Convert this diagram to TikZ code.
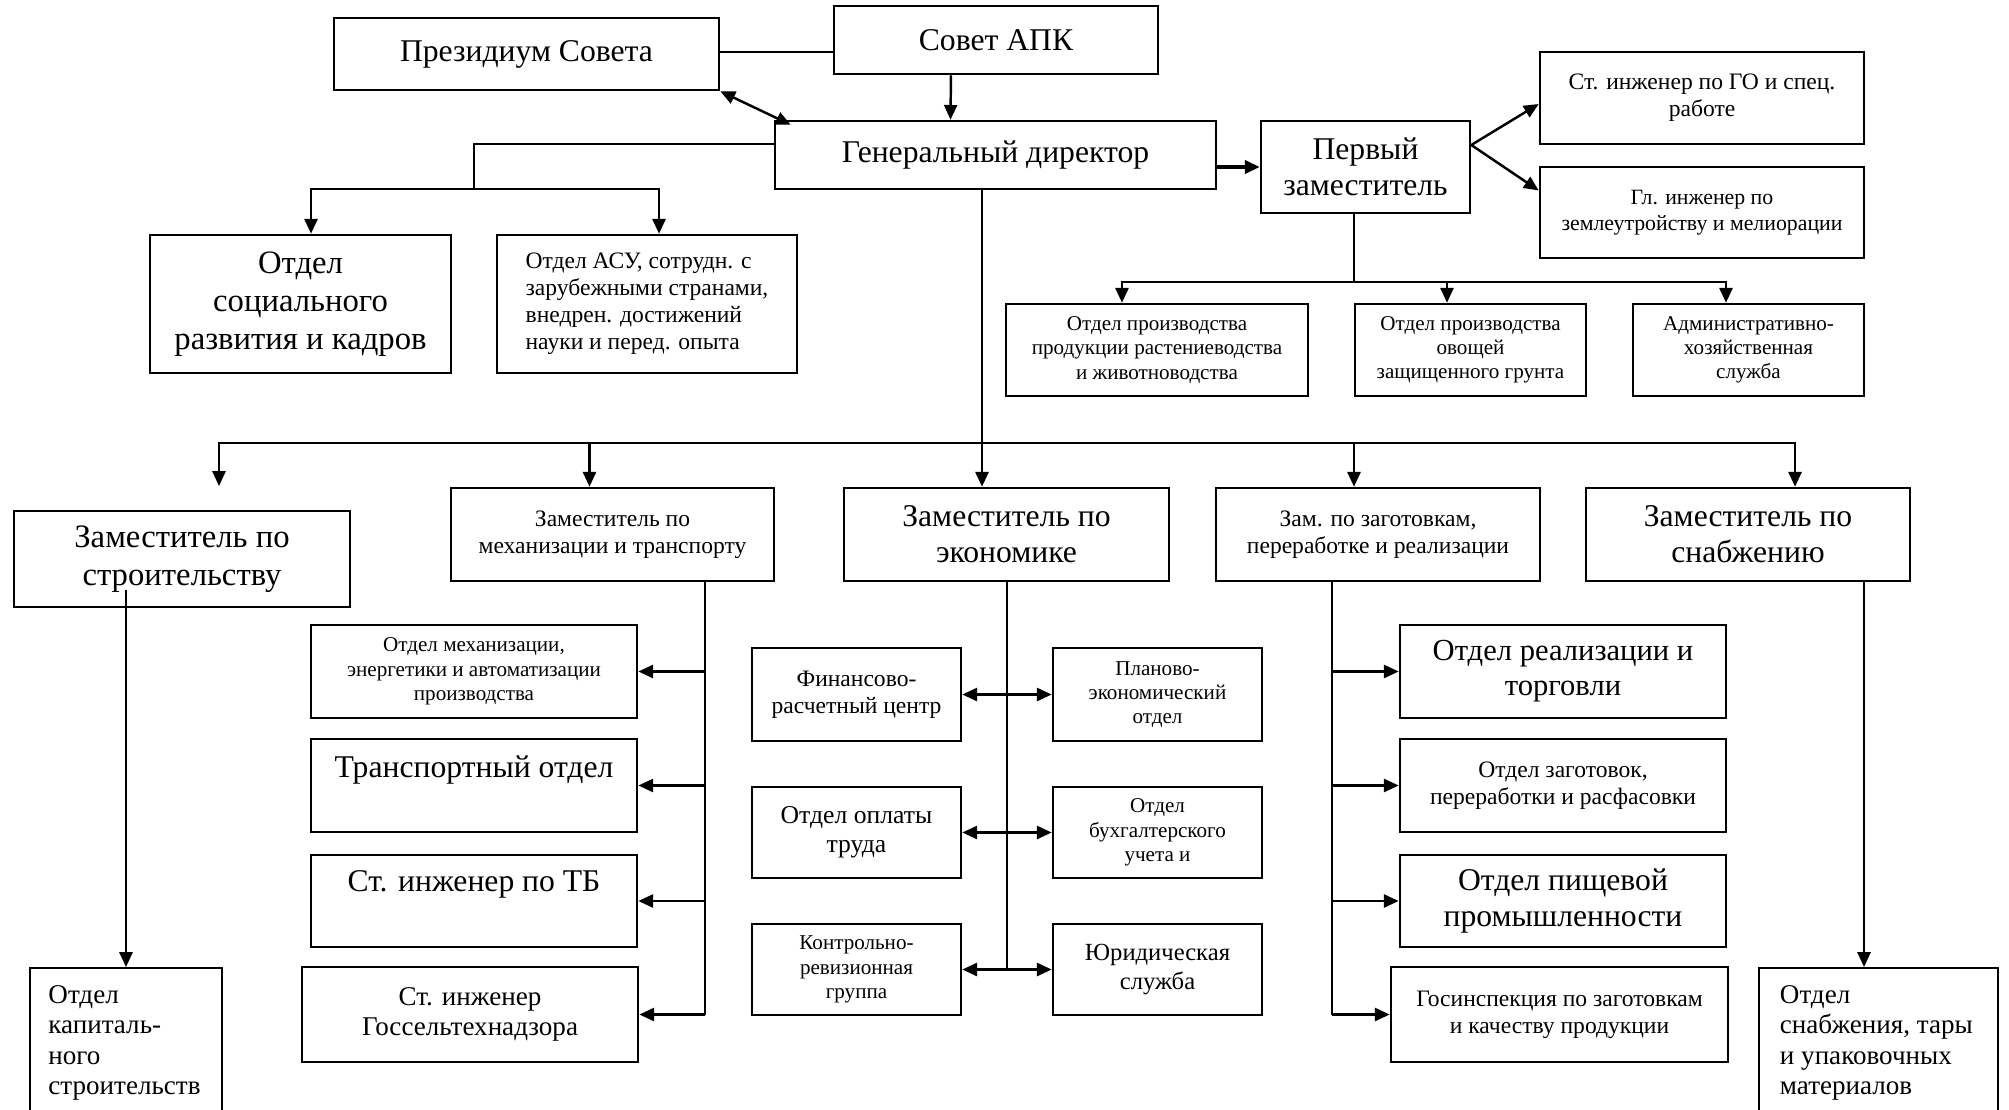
\documentclass[tikz,border=0pt]{standalone}
\usepackage{fontspec}
\setmainfont{Liberation Serif}
\usetikzlibrary{arrows.meta, positioning, calc}

\begin{document}
\begin{tikzpicture}[
    x=0.01cm, y=-0.01cm,
    box/.style={
        rectangle,
        draw=black,
        line width=0.7pt,
        fill=white,
        align=center,
        inner sep=2pt
    },
    sz/.style 2 args={minimum width=#1cm, minimum height=#2cm},
    fbigger/.style={font=\fontsize{9.3}{10.9}\selectfont},
    fbig/.style={font=\fontsize{9}{10.3}\selectfont},
    fmed/.style={font=\fontsize{7.7}{8.7}\selectfont},
    fmid/.style={font=\fontsize{6.7}{7.7}\selectfont},
    fsmall/.style={font=\fontsize{6}{6.9}\selectfont},
    arrow/.style={-{Triangle[length=4.2pt, width=3.7pt]}, line width=0.7pt},
    dblarrow/.style={{Triangle[length=4.2pt, width=3.7pt]}-{Triangle[length=4.2pt, width=3.7pt]}, line width=0.7pt},
    link/.style={line width=0.6pt}
]
\useasboundingbox (0,0) rectangle (2009,1109);
\clip (0,0) rectangle (2009,1109);

% Top level
\node[box, fbig, sz={3.85}{0.72}] (prez) at (526.5,54) {Президиум Совета};
\node[box, fbig, sz={3.24}{0.68}] (sovet) at (996,40) {Совет АПК};
\node[box, fbig, sz={4.41}{0.68}] (gendir) at (995.5,155) {Генеральный директор};
\node[box, fbig, sz={2.09}{0.92}] (pervy) at (1365.5,167) {Первый\\заместитель};

% First deputy's services
\node[box, fmid, sz={3.24}{0.92}] (stgo) at (1702,98) {Ст. инженер по ГО и спец.\\работе};
\node[box, font=\fontsize{6.2}{7.3}\selectfont, sz={3.24}{0.91}] (glinzh) at (1702,212.5) {Гл. инженер по\\землеутройству и мелиорации};
\node[box, fsmall, sz={3.02}{0.92}] (prodrast) at (1157,350) {Отдел производства\\продукции растениеводства\\и животноводства};
\node[box, fsmall, sz={2.31}{0.92}] (prodovosh) at (1470.5,350) {Отдел производства\\овощей\\защищенного грунта};
\node[box, fsmall, sz={2.31}{0.92}] (ahs) at (1748.5,350) {Административно-\\хозяйственная\\служба};

% Departments under the director
\node[box, fbigger, sz={3.01}{1.38}] (otdsoc) at (300.5,304) {Отдел\\социального\\развития и кадров};
\node[box, fmid, sz={3.00}{1.38}, align=left] (otdasu) at (647,304) {Отдел АСУ, сотрудн. с\\зарубежными странами,\\внедрен. достижений\\науки и перед. опыта};

% Deputies
\node[box, fbigger, sz={3.36}{0.96}] (zstroy) at (182,559) {Заместитель по\\строительству};
\node[box, fmid, sz={3.23}{0.93}] (zmech) at (612.5,534.5) {Заместитель по\\механизации и транспорту};
\node[box, fbig, sz={3.25}{0.93}] (zecon) at (1006.5,534.5) {Заместитель по\\экономике};
\node[box, fmid, sz={3.24}{0.93}] (zzag) at (1378,534.5) {Зам. по заготовкам,\\переработке и реализации};
\node[box, fbig, sz={3.24}{0.93}] (zsnab) at (1748,534.5) {Заместитель по\\снабжению};

% Mechanization and transport
\node[box, fsmall, sz={3.26}{0.93}] (otdmech) at (474,671.5) {Отдел механизации,\\энергетики и автоматизации\\производства};
\node[box, fbig, sz={3.26}{0.93}, text depth=0.37cm] (otdtrans) at (474,785.5) {Транспортный отдел};
\node[box, fbig, sz={3.26}{0.92}, text depth=0.40cm] (stinztb) at (474,901) {Ст. инженер по ТБ};
\node[box, fmed, sz={3.36}{0.95}] (stinzgos) at (470,1014.5) {Ст. инженер\\Госсельтехнадзора};

% Economics
\node[box, fmid, sz={2.09}{0.93}] (fincentr) at (856.5,694.5) {Финансово-\\расчетный центр};
\node[box, fsmall, sz={2.09}{0.93}] (planotd) at (1157.5,694.5) {Планово-\\экономический\\отдел};
\node[box, font=\fontsize{7.3}{8.3}\selectfont, sz={2.09}{0.91}] (oplata) at (856.5,832.5) {Отдел оплаты\\труда};
\node[box, fsmall, sz={2.09}{0.91}] (buhuchet) at (1157.5,832.5) {Отдел\\бухгалтерского\\учета и};
\node[box, fsmall, sz={2.09}{0.91}] (kontrrev) at (856.5,969.5) {Контрольно-\\ревизионная\\группа};
\node[box, font=\fontsize{7}{8}\selectfont, sz={2.09}{0.91}] (yurist) at (1157.5,969.5) {Юридическая\\служба};

% Procurement and sales
\node[box, font=\fontsize{8.7}{10}\selectfont, sz={3.26}{0.93}] (otdreal) at (1563,671.5) {Отдел реализации и\\торговли};
\node[box, fmid, sz={3.26}{0.93}] (otdzag) at (1563,785.5) {Отдел заготовок,\\переработки и расфасовки};
\node[box, fbig, sz={3.26}{0.92}] (otdpisch) at (1563,901) {Отдел пищевой\\промышленности};
\node[box, fmid, sz={3.37}{0.95}] (gosinsp) at (1559.5,1014.5) {Госинспекция по заготовкам\\и качеству продукции};

% Bottom corners
\node[box, fmed, anchor=north, align=flush left, text width=1.55cm, inner xsep=0.185cm, inner ysep=0.17cm, text depth=1.6cm] (otdkap) at (126,967) {Отдел\\капиталь-\\ного\\строительств};
\node[box, fmed, anchor=north, align=flush left, text width=1.97cm, inner xsep=0.21cm, inner ysep=0.17cm, text depth=1.6cm] (otdsnab) at (1878.5,967) {Отдел\\снабжения, тары\\и упаковочных\\материалов};

% Top connections
\draw[link] ([yshift=0.02cm]prez.east) -- ([yshift=0.02cm]prez.east -| sovet.west);
\draw[arrow] ([xshift=-0.45cm]sovet.south) -- ([xshift=-0.45cm]gendir.north);
\draw[dblarrow] (prez.south east) -- ($(gendir.north west)+(17,5)$);
\draw[arrow, line width=1.1pt] (gendir.east |- pervy.west) -- (pervy.west);

% Director to the two departments
\coordinate (gleft) at (474,189);
\draw[link] ([yshift=0.11cm]gendir.west) -| (gleft);
\draw[arrow] (gleft) -| ([xshift=0.105cm]otdsoc.north);
\draw[arrow] (gleft) -| ([xshift=0.12cm]otdasu.north);

% First deputy
\coordinate (pfork) at ([yshift=0.22cm]pervy.east);
\draw[arrow] (pfork) -- ([yshift=-0.06cm]stgo.west);
\draw[arrow] (pfork) -- ([yshift=0.22cm]glinzh.west);
\coordinate (pbus) at (1354,282);
\draw[link] (pervy.south -| pbus) -- (pbus);
\draw[arrow] (pbus) -| ([xshift=-0.35cm]prodrast.north);
\draw[arrow] (pbus) -| ([xshift=-0.235cm]prodovosh.north);
\draw[arrow] (pbus) -| ([xshift=-0.225cm]ahs.north);

% Main bus to the deputies
\coordinate (busc) at (982,443);
\coordinate (stroyin) at (219,486);
\draw[arrow] (gendir.south -| busc) -- (zecon.north -| busc);
\draw[arrow] (busc) -| (stroyin);
\draw[arrow] (busc) -| ([xshift=-0.23cm]zmech.north);
\draw[arrow] (busc) -| ([xshift=-0.24cm]zzag.north);
\draw[arrow] (busc) -| ([xshift=0.47cm]zsnab.north);

% Construction and supply
\draw[arrow] ($(zstroy.south -| otdkap.north)+(0,-18)$) -- (otdkap.north);
\coordinate (snabv) at (1864,600);
\draw[arrow] (zsnab.south -| snabv) -- (snabv |- otdsnab.north);

% Mechanization column
\coordinate (mechv) at (705,600);
\draw[link] (zmech.south -| mechv) -- (mechv |- stinzgos.east);
\foreach \n in {otdmech, otdtrans, stinztb, stinzgos}
    \draw[arrow] (mechv |- \n.east) -- (\n.east);

% Economics column
\coordinate (econv) at (1007,600);
\draw[link] (zecon.south -| econv) -- (econv |- kontrrev.east);
\draw[dblarrow] (fincentr) -- (planotd);
\draw[dblarrow] (oplata) -- (buhuchet);
\draw[dblarrow] (kontrrev) -- (yurist);

% Procurement column
\coordinate (zagv) at (1332,600);
\draw[link] (zzag.south -| zagv) -- (zagv |- gosinsp.west);
\foreach \n in {otdreal, otdzag, otdpisch, gosinsp}
    \draw[arrow] (zagv |- \n.west) -- (\n.west);

\end{tikzpicture}
\end{document}
